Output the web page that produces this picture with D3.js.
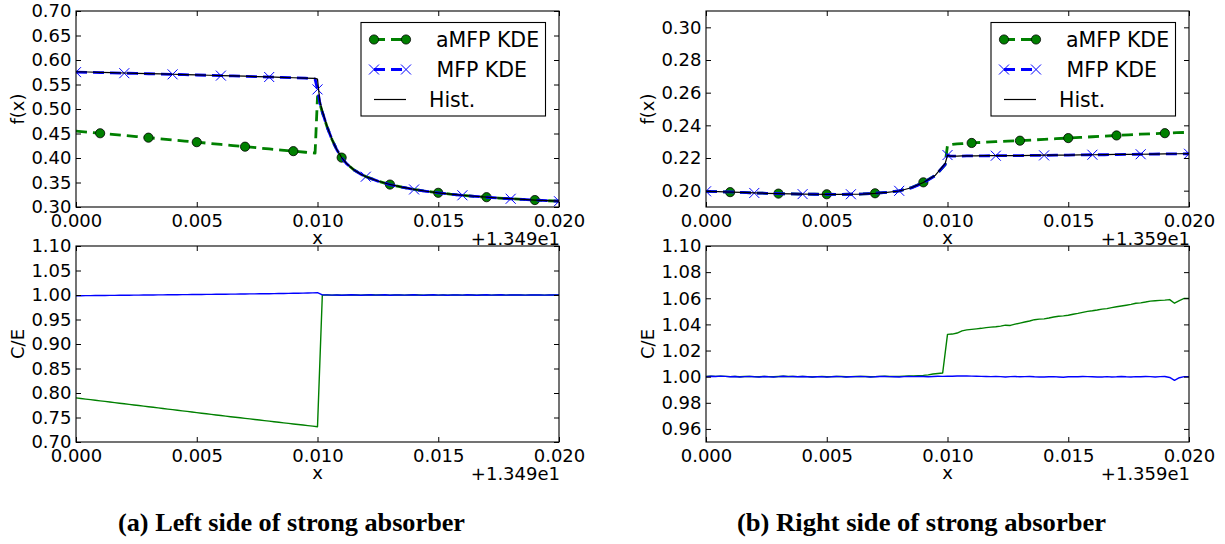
<!DOCTYPE html>
<html>
<head>
<meta charset="utf-8">
<script src="https://cdn.jsdelivr.net/npm/d3@7"></script>
<style>
  body { margin: 0; background: #fff; }
  svg text { font-family: "DejaVu Sans", sans-serif; fill: #000; }
</style>
</head>
<body>
<svg id="fig" width="1225" height="544"></svg>
<script>
// ---- sample positions (x relative to the offset shown under each axis) ----
const xTop = [0, 0.0005, 0.001, 0.0015, 0.002, 0.0025, 0.003, 0.0035, 0.004, 0.0045,
  0.005, 0.0055, 0.006, 0.0065, 0.007, 0.0075, 0.008, 0.0085, 0.009, 0.0095,
  0.0099, 0.0100, 0.0101, 0.0102, 0.0104, 0.0106, 0.0108, 0.0110, 0.0112, 0.0115, 0.0118, 0.0120,
  0.0125, 0.0130, 0.0135, 0.0140, 0.0145, 0.0150, 0.0155, 0.0160, 0.0165, 0.0170, 0.0175,
  0.0180, 0.0185, 0.0190, 0.0195, 0.0200];
const xCE = d3.range(101).map(i => +(i * 0.0002).toFixed(4));

// ---- (a) left side of the absorber: densities f(x) ----
const histLeft = [0.5760, 0.5755, 0.5748, 0.5741, 0.5735, 0.5729, 0.5722, 0.5716, 0.5709, 0.5702,
  0.5696, 0.5689, 0.5682, 0.5675, 0.5669, 0.5661, 0.5654, 0.5646, 0.5638, 0.5630,
  0.5624, 0.5610, 0.5150, 0.4960, 0.4640, 0.4380, 0.4170, 0.4010, 0.3890, 0.3760, 0.3670, 0.3620,
  0.3530, 0.3460, 0.3405, 0.3360, 0.3322, 0.3290, 0.3263, 0.3240, 0.3219, 0.3200, 0.3184,
  0.3169, 0.3155, 0.3142, 0.3130, 0.3119];
const mfpLeft = [0.5752, 0.5748, 0.5743, 0.5737, 0.5731, 0.5725, 0.5719, 0.5713, 0.5707, 0.5700,
  0.5694, 0.5687, 0.5681, 0.5674, 0.5667, 0.5660, 0.5653, 0.5646, 0.5638, 0.5630,
  0.5610, 0.5400, 0.5120, 0.4940, 0.4630, 0.4375, 0.4168, 0.4005, 0.3885, 0.3758, 0.3668, 0.3618,
  0.3528, 0.3458, 0.3404, 0.3358, 0.3321, 0.3289, 0.3262, 0.3239, 0.3218, 0.3199, 0.3183,
  0.3168, 0.3154, 0.3141, 0.3129, 0.3118];
const amfpLeft = [0.4550, 0.4528, 0.4505, 0.4483, 0.4461, 0.4438, 0.4415, 0.4392, 0.4369, 0.4346,
  0.4323, 0.4300, 0.4277, 0.4254, 0.4231, 0.4208, 0.4185, 0.4162, 0.4140, 0.4117,
  0.4100, 0.5250, 0.5110, 0.4930, 0.4630, 0.4378, 0.4170, 0.4008, 0.3887, 0.3760, 0.3670, 0.3620,
  0.3530, 0.3458, 0.3404, 0.3358, 0.3321, 0.3290, 0.3262, 0.3240, 0.3218, 0.3200, 0.3183,
  0.3168, 0.3154, 0.3142, 0.3129, 0.3118];

// ---- (b) right side of the absorber: densities f(x) ----
const histRight = [0.1995, 0.1994, 0.1991, 0.1989, 0.1987, 0.1984, 0.1982, 0.1980, 0.1979, 0.1978,
  0.1977, 0.1977, 0.1978, 0.1979, 0.1983, 0.1989, 0.1998, 0.2018, 0.2050, 0.2095,
  0.2165, 0.2216, 0.2212, 0.2212, 0.2212, 0.2213, 0.2213, 0.2213, 0.2213, 0.2214, 0.2214, 0.2214,
  0.2215, 0.2215, 0.2216, 0.2217, 0.2217, 0.2218, 0.2219, 0.2220, 0.2221, 0.2222, 0.2222,
  0.2223, 0.2224, 0.2225, 0.2226, 0.2227];
const mfpRight = [0.1996, 0.1994, 0.1992, 0.1989, 0.1986, 0.1984, 0.1982, 0.1980, 0.1979, 0.1978,
  0.1977, 0.1977, 0.1978, 0.1980, 0.1984, 0.1990, 0.1999, 0.2017, 0.2048, 0.2093,
  0.2160, 0.2218, 0.2213, 0.2212, 0.2212, 0.2212, 0.2213, 0.2213, 0.2213, 0.2213, 0.2214, 0.2214,
  0.2214, 0.2215, 0.2216, 0.2216, 0.2217, 0.2218, 0.2219, 0.2220, 0.2220, 0.2221, 0.2222,
  0.2223, 0.2224, 0.2225, 0.2225, 0.2226];
const amfpRight = [0.1996, 0.1994, 0.1991, 0.1989, 0.1986, 0.1984, 0.1982, 0.1980, 0.1979, 0.1978,
  0.1978, 0.1977, 0.1978, 0.1980, 0.1984, 0.1990, 0.1999, 0.2018, 0.2051, 0.2094,
  0.2158, 0.2279, 0.2281, 0.2283, 0.2286, 0.2288, 0.2290, 0.2292, 0.2294, 0.2296, 0.2299, 0.2300,
  0.2303, 0.2306, 0.2310, 0.2314, 0.2318, 0.2322, 0.2326, 0.2330, 0.2334, 0.2338, 0.2342,
  0.2346, 0.2349, 0.2352, 0.2355, 0.2357];

// ---- C/E ratios (KDE / histogram), sampled every 0.0002 ----
const ceLeftMfp = [
  0.9985, 0.9986, 0.9987, 0.9988, 0.9989, 0.9990, 0.9991, 0.9992, 0.9993, 0.9994,
  0.9995, 0.9996, 0.9997, 0.9998, 0.9999, 1.0000, 1.0001, 1.0002, 1.0003, 1.0004,
  1.0005, 1.0006, 1.0007, 1.0008, 1.0009, 1.0010, 1.0011, 1.0012, 1.0013, 1.0014,
  1.0015, 1.0016, 1.0017, 1.0018, 1.0019, 1.0021, 1.0022, 1.0023, 1.0024, 1.0026,
  1.0027, 1.0029, 1.0030, 1.0032, 1.0033, 1.0035, 1.0037, 1.0039, 1.0041, 1.0044,
  1.0047, 1.0002,
  1.0003, 0.9997, 1.0001, 0.9995, 0.9999, 1.0004, 1.0000, 0.9996, 1.0001, 1.0006,
  0.9998, 1.0001, 1.0004, 0.9996, 1.0000, 1.0003, 0.9997, 1.0001, 1.0006, 0.9998,
  0.9995, 1.0001, 1.0004, 0.9997, 1.0001, 0.9995, 1.0003, 1.0000, 0.9997, 1.0004,
  1.0000, 0.9995, 1.0001, 1.0004, 0.9997, 1.0000, 1.0005, 0.9997, 1.0001, 1.0003,
  1.0000, 0.9997, 1.0003, 1.0000, 1.0001, 0.9997, 1.0003, 1.0000, 1.0002];
const ceLeftAmfp = [
  0.7900, 0.7888, 0.7876, 0.7864, 0.7852, 0.7840, 0.7828, 0.7816, 0.7804, 0.7792,
  0.7780, 0.7768, 0.7756, 0.7744, 0.7732, 0.7720, 0.7708, 0.7696, 0.7684, 0.7672,
  0.7660, 0.7648, 0.7636, 0.7624, 0.7612, 0.7600, 0.7588, 0.7576, 0.7564, 0.7552,
  0.7540, 0.7528, 0.7516, 0.7505, 0.7494, 0.7482, 0.7471, 0.7460, 0.7448, 0.7437,
  0.7425, 0.7414, 0.7402, 0.7391, 0.7380, 0.7368, 0.7357, 0.7346, 0.7334, 0.7323,
  0.7312,
  0.9998, 1.0001, 0.9998, 1.0000, 0.9996, 0.9998, 1.0003, 1.0000, 0.9997, 1.0000,
  1.0004, 0.9999, 1.0000, 1.0003, 0.9997, 0.9999, 1.0002, 0.9998, 1.0000, 1.0004,
  0.9999, 0.9996, 1.0000, 1.0003, 0.9998, 1.0000, 0.9996, 1.0002, 1.0000, 0.9998,
  1.0003, 1.0000, 0.9996, 1.0000, 1.0003, 0.9998, 1.0000, 1.0004, 0.9998, 1.0000,
  1.0002, 1.0000, 0.9998, 1.0002, 1.0000, 1.0000, 0.9998, 1.0002, 1.0000, 1.0001];
const ceRightMfp = [
  1.0000, 1.0003, 1.0001, 1.0004, 1.0002, 0.9999, 1.0001, 0.9998, 1.0000, 1.0002,
  0.9999, 0.9998, 1.0001, 0.9999, 0.9998, 1.0000, 1.0003, 1.0000, 1.0001, 0.9999,
  1.0001, 0.9999, 0.9997, 0.9999, 1.0000, 0.9998, 0.9999, 1.0001, 1.0000, 0.9998,
  0.9999, 1.0000, 1.0002, 1.0000, 0.9998, 0.9999, 1.0001, 1.0002, 1.0000, 0.9999,
  0.9998, 1.0000, 1.0001, 1.0000, 1.0002, 1.0001, 0.9999, 1.0001, 1.0003, 1.0002,
  1.0004, 1.0003, 1.0005, 1.0006, 1.0005, 1.0004, 1.0003, 1.0002, 1.0001, 1.0000,
  1.0002, 1.0000, 0.9997, 1.0000, 1.0001, 0.9999, 1.0000, 1.0001, 0.9999, 0.9998,
  0.9997, 0.9999, 1.0000, 0.9998, 0.9996, 0.9999, 1.0000, 0.9999, 1.0001, 1.0000,
  0.9999, 0.9997, 0.9998, 1.0000, 0.9998, 0.9999, 1.0001, 0.9999, 0.9998, 1.0000,
  0.9999, 1.0001, 1.0000, 0.9998, 1.0000, 1.0001, 0.9994, 0.9972, 0.9992, 1.0000,
  1.0000];
const ceRightAmfp = [
  1.0001, 1.0003, 1.0002, 1.0004, 1.0002, 1.0000, 1.0001, 0.9999, 1.0001, 1.0002,
  1.0000, 0.9999, 1.0001, 1.0000, 0.9999, 1.0001, 1.0003, 1.0001, 1.0001, 1.0000,
  1.0001, 1.0000, 0.9998, 1.0000, 1.0001, 0.9999, 1.0000, 1.0001, 1.0001, 0.9999,
  1.0000, 1.0001, 1.0002, 1.0001, 0.9999, 1.0000, 1.0002, 1.0003, 1.0001, 1.0001,
  1.0002, 1.0004, 1.0005, 1.0006, 1.0008, 1.0010, 1.0014, 1.0020, 1.0024, 1.0028,
  1.0324, 1.0326, 1.0334, 1.0350, 1.0358, 1.0362, 1.0366, 1.0370, 1.0375, 1.0379,
  1.0382, 1.0387, 1.0394, 1.0392, 1.0402, 1.0410, 1.0418, 1.0426, 1.0436, 1.0440,
  1.0442, 1.0449, 1.0457, 1.0462, 1.0465, 1.0470, 1.0478, 1.0484, 1.0492, 1.0500,
  1.0504, 1.0510, 1.0517, 1.0521, 1.0528, 1.0535, 1.0541, 1.0547, 1.0553, 1.0562,
  1.0565, 1.0571, 1.0578, 1.0581, 1.0584, 1.0586, 1.0590, 1.0562, 1.0582, 1.0599,
  1.0599];

// ---- ticks, labels ----
const xTicks = [0, 0.005, 0.010, 0.015, 0.020];
const yTicksTopLeft = [0.30, 0.35, 0.40, 0.45, 0.50, 0.55, 0.60, 0.65, 0.70];
const yTicksTopRight = [0.20, 0.22, 0.24, 0.26, 0.28, 0.30];
const yTicksCELeft = [0.70, 0.75, 0.80, 0.85, 0.90, 0.95, 1.00, 1.05, 1.10];
const yTicksCERight = [0.96, 0.98, 1.00, 1.02, 1.04, 1.06, 1.08, 1.10];
const legendLabels = ["aMFP KDE", "MFP KDE", "Hist."];
const offsetLabels = ["+1.349e1", "+1.359e1"];
const captions = ["(a) Left side of strong absorber", "(b) Right side of strong absorber"];

const GREEN = "#008000", BLUE = "#0000ff", BLACK = "#000000";
const svg = d3.select("#fig");
let clipCount = 0;

function drawAxes(root, cfg) {
  const { left, right, top, bottom } = cfg;
  const x = d3.scaleLinear().domain([0, 0.02]).range([left, right]);
  const y = d3.scaleLinear().domain(cfg.yDomain).range([bottom, top]);
  const g = root.append("g");

  const clipId = "clip" + (clipCount++);
  g.append("clipPath").attr("id", clipId)
    .append("rect").attr("x", left).attr("y", top)
    .attr("width", right - left).attr("height", bottom - top);
  const plot = g.append("g").attr("clip-path", `url(#${clipId})`);

  cfg.series.forEach(s => {
    const pts = s.x.map((xv, i) => [xv, s.y[i]]);
    plot.append("path")
      .datum(pts)
      .attr("d", d3.line().x(d => x(d[0])).y(d => y(d[1])))
      .attr("fill", "none")
      .attr("stroke", s.color)
      .attr("stroke-width", s.width)
      .attr("stroke-dasharray", s.dash || null)
      .attr("stroke-linejoin", "round");
    if (s.marker) {
      const marked = pts.filter(d => Math.round(d[0] * 1e4) % 20 === s.markPhase);
      drawMarkers(plot, marked.map(d => [x(d[0]), y(d[1])]), s.marker);
    }
  });

  // frame and inward ticks on all four sides
  const tick = -5;
  const bottomAxis = g.append("g").attr("transform", `translate(0,${bottom})`)
    .call(d3.axisBottom(x).tickValues(xTicks).tickFormat(d3.format(".3f"))
      .tickSizeInner(tick).tickSizeOuter(0));
  bottomAxis.selectAll("text").attr("y", 20).attr("dy", null);
  g.append("g").attr("transform", `translate(0,${top})`)
    .call(d3.axisTop(x).tickValues(xTicks).tickFormat("").tickSizeInner(tick).tickSizeOuter(0));
  g.append("g").attr("transform", `translate(${left},0)`)
    .call(d3.axisLeft(y).tickValues(cfg.yTicks).tickFormat(d3.format(".2f"))
      .tickSizeInner(tick).tickSizeOuter(0).tickPadding(4.5));
  g.append("g").attr("transform", `translate(${right},0)`)
    .call(d3.axisRight(y).tickValues(cfg.yTicks).tickFormat("").tickSizeInner(tick).tickSizeOuter(0));

  g.selectAll(".domain").remove();
  g.selectAll(".tick line").attr("stroke", BLACK).attr("stroke-width", 1);
  g.selectAll(".tick text").attr("font-size", 18).attr("font-family", "DejaVu Sans").attr("fill", BLACK);

  g.append("rect").attr("x", left).attr("y", top)
    .attr("width", right - left).attr("height", bottom - top)
    .attr("fill", "none").attr("stroke", BLACK).attr("stroke-width", 1.1);

  // axis titles and offset text
  g.append("text").attr("x", (left + right) / 2).attr("y", bottom + 36.5)
    .attr("text-anchor", "middle").attr("font-size", 18).text("x");
  g.append("text").attr("x", right + 1).attr("y", bottom + 38)
    .attr("text-anchor", "end").attr("font-size", 18).text(cfg.offset);
  g.append("text")
    .attr("transform", `translate(${left - 52},${(top + bottom) / 2}) rotate(-90)`)
    .attr("text-anchor", "middle").attr("font-size", 18).text(cfg.ylabel);
  return g;
}

function drawMarkers(sel, pts, kind) {
  if (kind === "o") {
    sel.selectAll(null).data(pts).enter().append("circle")
      .attr("cx", d => d[0]).attr("cy", d => d[1]).attr("r", 4.6)
      .attr("fill", GREEN).attr("stroke", BLACK).attr("stroke-width", 0.8);
  } else {
    sel.selectAll(null).data(pts).enter().append("path")
      .attr("d", d => `M${d[0] - 5},${d[1] - 5}L${d[0] + 5},${d[1] + 5}M${d[0] - 5},${d[1] + 5}L${d[0] + 5},${d[1] - 5}`)
      .attr("stroke", BLUE).attr("stroke-width", 1).attr("fill", "none");
  }
}

function drawLegend(root, left, top) {
  const g = root.append("g");
  g.append("rect").attr("x", left).attr("y", top).attr("width", 184.5).attr("height", 93.5)
    .attr("fill", "#fff").attr("stroke", BLACK).attr("stroke-width", 1.1);
  const rows = [
    { label: legendLabels[0], color: GREEN, dash: "11,6", width: 2.8, marker: "o", tx: 75, dy: 17 },
    { label: legendLabels[1], color: BLUE, dash: "11,6", width: 2.8, marker: "x", tx: 75.5, dy: 47 },
    { label: legendLabels[2], color: BLACK, dash: null, width: 1.2, marker: null, tx: 68, dy: 77 }
  ];
  rows.forEach(r => {
    const yy = top + r.dy;
    const x0 = left + 13, x1 = left + 45;
    g.append("line").attr("x1", x0).attr("x2", x1).attr("y1", yy).attr("y2", yy)
      .attr("stroke", r.color).attr("stroke-width", r.width).attr("stroke-dasharray", r.dash);
    if (r.marker) drawMarkers(g, [[x0, yy], [x1, yy]], r.marker);
    g.append("text").attr("x", left + r.tx).attr("y", yy + 7.3)
      .attr("font-size", 20.5).text(r.label);
  });
}

function drawColumn(dx, d) {
  const root = svg.append("g").attr("transform", `translate(${dx},0)`);
  drawAxes(root, {
    left: 76, right: 559, top: 11, bottom: 207,
    yDomain: d.yTop, yTicks: d.yTicksTop, ylabel: "f(x)", offset: d.offset,
    series: [
      { x: xTop, y: d.amfp, color: GREEN, width: 2.8, dash: "11,6", marker: "o", markPhase: 10 },
      { x: xTop, y: d.mfp, color: BLUE, width: 2.8, dash: "11,6", marker: "x", markPhase: 0 },
      { x: xTop, y: d.hist, color: BLACK, width: 1.2 }
    ]
  });
  drawLegend(root, 361, 22.5);
  drawAxes(root, {
    left: 76, right: 559, top: 246, bottom: 442,
    yDomain: d.yCE, yTicks: d.yTicksCE, ylabel: "C/E", offset: d.offset,
    series: [
      { x: xCE, y: d.ceAmfp, color: GREEN, width: 1.4 },
      { x: xCE, y: d.ceMfp, color: BLUE, width: 1.4 }
    ]
  });
  svg.append("text").attr("x", dx + 291.5).attr("y", 531)
    .attr("text-anchor", "middle")
    .style("font-family", "'Liberation Serif', 'Times New Roman', serif")
    .attr("font-weight", "bold").attr("font-size", 26)
    .attr("textLength", d.captionWidth).attr("lengthAdjust", "spacingAndGlyphs")
    .text(d.caption);
}

drawColumn(0, {
  amfp: amfpLeft, mfp: mfpLeft, hist: histLeft, ceAmfp: ceLeftAmfp, ceMfp: ceLeftMfp,
  yTop: [0.30, 0.70], yTicksTop: yTicksTopLeft, yCE: [0.70, 1.10], yTicksCE: yTicksCELeft,
  offset: offsetLabels[0], caption: captions[0], captionWidth: 347
});
drawColumn(630, {
  amfp: amfpRight, mfp: mfpRight, hist: histRight, ceAmfp: ceRightAmfp, ceMfp: ceRightMfp,
  yTop: [0.19, 0.31], yTicksTop: yTicksTopRight, yCE: [0.95, 1.10], yTicksCE: yTicksCERight,
  offset: offsetLabels[1], caption: captions[1], captionWidth: 369
});
</script>
</body>
</html>
